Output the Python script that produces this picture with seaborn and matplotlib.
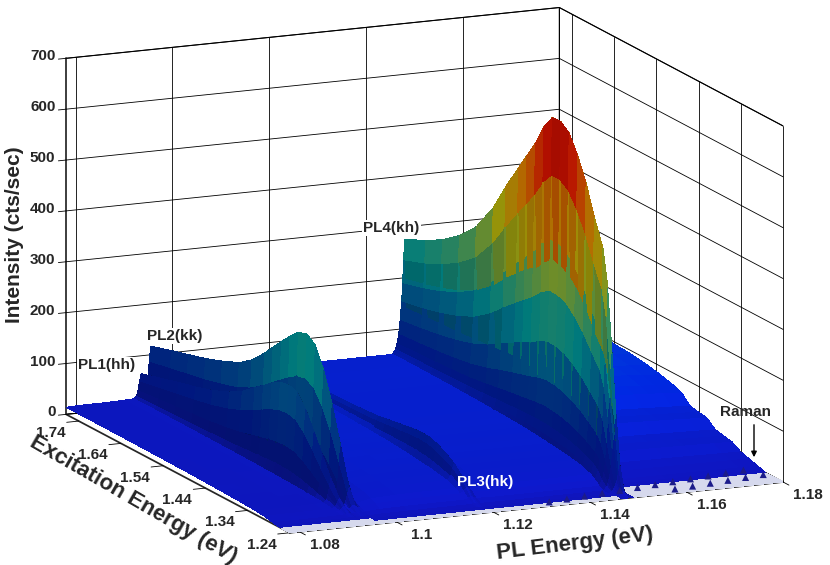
import numpy as np
import matplotlib
matplotlib.use("Agg")
import matplotlib.pyplot as plt
import seaborn as sns
from matplotlib.colors import LinearSegmentedColormap, Normalize

# PL energy sample positions (eV)
pl_energy = [1.078, 1.082, 1.086, 1.090, 1.0920,
             1.0926, 1.0929, 1.0932, 1.0935, 1.0938, 1.0942,
             1.0946, 1.0949, 1.0952, 1.0955, 1.0959, 1.0964, 1.0970,
             1.100, 1.105, 1.110, 1.115, 1.1175,
             1.1183, 1.1187, 1.1190, 1.1194, 1.1200,
             1.123, 1.128, 1.133, 1.138, 1.142, 1.1455,
             1.1458, 1.1462, 1.1465, 1.1468, 1.1471, 1.1474, 1.1476, 1.1478, 1.1480,
             1.1482, 1.1485, 1.1490, 1.152, 1.156, 1.160, 1.164, 1.167, 1.170, 1.173, 1.176, 1.180]
# excitation energy rows (eV)
exc_energy = [1.24, 1.25, 1.26, 1.27, 1.28, 1.29, 1.30, 1.32, 1.34, 1.36, 1.38, 1.40,
              1.42, 1.44, 1.46, 1.48, 1.50, 1.53, 1.56, 1.60, 1.64, 1.68, 1.72, 1.77]

# broad background level (cts/sec) at the top of the excitation range
background_level = [14, 15, 15, 16, 17,
                    18, 18, 18, 18, 18, 18,
                    20, 20, 20, 20, 22, 26, 30,
                    45, 50, 52, 52, 52,
                    52, 52, 52, 52, 52,
                    52, 52, 52, 52, 52, 52,
                    52, 52, 52, 52, 52, 52, 52, 52, 52,
                    30, 10, 0, 0, 0, 0, 0, 0, 0, 0, 0, 0]
background_exc = [0, 0, 0.02, 0.06, 0.15, 0.30, 0.42, 0.55, 0.62, 0.68, 0.72, 0.76,
                  0.80, 0.83, 0.86, 0.88, 0.90, 0.92, 0.94, 0.96, 0.98, 0.99, 1.0, 1.0]

# sideband plateau above PL4 (stepped along excitation energy)
plateau_pl = [1.1482, 1.1485, 1.1490, 1.152, 1.156, 1.160, 1.164, 1.167, 1.170, 1.173, 1.176, 1.180]
plateau_shape = [0.4, 0.85, 1.0, 1.0, 1.0, 0.98, 0.96, 0.94, 0.92, 0.90, 0.88, 0.85]
plateau_exc = [0, 0, 0, 0, 0, 3, 6, 12, 18, 30, 34, 38,
               55, 58, 62, 82, 90, 98, 104, 110, 112, 114, 115, 115]

# zero phonon lines
pl1_pl = [1.0920, 1.0926, 1.0929, 1.0932, 1.0935, 1.0938, 1.0942, 1.0946]
pl1_shape = [0, 0.12, 0.35, 0.70, 1.0, 0.75, 0.30, 0.05]
pl1_exc = [0, 0, 0, 1, 3, 9, 18, 46, 81, 118, 153, 177,
           182, 178, 167, 153, 140, 119, 104, 89, 78, 69, 59, 47]

pl2_pl = [1.0942, 1.0946, 1.0949, 1.0952, 1.0955, 1.0959, 1.0964, 1.0970]
pl2_shape = [0, 0.12, 0.35, 0.70, 1.0, 0.70, 0.25, 0]
pl2_exc = [0, 0, 0, 1, 3, 9, 37, 107, 179, 236, 276, 288,
           282, 265, 245, 225, 204, 177, 158, 143, 130, 120, 110, 97]

pl3_pl = [1.1175, 1.1183, 1.1187, 1.1190, 1.1194, 1.1200, 1.123]
pl3_shape = [0, 0.30, 0.75, 1.0, 0.70, 0.20, 0]
pl3_exc = [0, 0, 0, 2, 6, 12, 20, 32, 40, 46, 50, 48,
           45, 40, 36, 32, 28, 25, 22, 20, 18, 17, 16, 15]

pl4_pl = [1.1455, 1.1458, 1.1462, 1.1465, 1.1468, 1.1471, 1.1474, 1.1476, 1.1478, 1.1480,
          1.1482, 1.1485, 1.1490]
pl4_shape = [0, 0.02, 0.05, 0.10, 0.18, 0.30, 0.46, 0.62, 0.82, 1.0, 0.55, 0.15, 0.0]
pl4_exc = [0, 8, 55, 158, 278, 388, 443, 487, 543, 585, 618, 630,
           627, 598, 556, 522, 488, 437, 381, 325, 289, 263, 243, 224]

# Raman replicas near the low excitation edge
raman_pl = [1.132, 1.136, 1.140, 1.144, 1.148, 1.152, 1.156, 1.160, 1.164, 1.168, 1.172, 1.176,
            1.158, 1.162, 1.166, 1.170, 1.174, 1.178]
raman_exc = [1.244, 1.248, 1.252, 1.256, 1.260, 1.264, 1.268, 1.272, 1.276, 1.280, 1.284, 1.288,
             1.244, 1.248, 1.252, 1.256, 1.260, 1.264]

x_ticks = [1.08, 1.10, 1.12, 1.14, 1.16, 1.18]
x_ticklabels = ["1.08", "1.1", "1.12", "1.14", "1.16", "1.18"]
y_ticks = [1.24, 1.34, 1.44, 1.54, 1.64, 1.74]
y_ticklabels = ["1.24", "1.34", "1.44", "1.54", "1.64", "1.74"]
z_ticks = [0, 100, 200, 300, 400, 500, 600, 700]

X_LIM = (1.078, 1.18)
Y_LIM = (1.24, 1.77)
Z_LIM = (0, 700)
BOX = (530, 545, 360)


def build_map():
    """Assemble the intensity table from the read-off components."""
    pl = np.array(pl_energy)
    z = np.outer(background_exc, background_level).astype(float)
    parts = [
        (plateau_pl, plateau_shape, plateau_exc),
        (pl1_pl, pl1_shape, pl1_exc),
        (pl2_pl, pl2_shape, pl2_exc),
        (pl3_pl, pl3_shape, pl3_exc),
        (pl4_pl, pl4_shape, pl4_exc),
    ]
    for pos, shape, prof in parts:
        idx = np.searchsorted(pl, np.array(pos) - 1e-7)
        z[:, idx] += np.outer(prof, shape)
    return z


def face_colors(X, Y, Z, cmap, norm):
    """Per-face colour from mean height, lit in box-scaled coordinates."""
    P = np.stack([
        (X - X_LIM[0]) / (X_LIM[1] - X_LIM[0]) * BOX[0],
        (Y - Y_LIM[0]) / (Y_LIM[1] - Y_LIM[0]) * BOX[1],
        (Z - Z_LIM[0]) / (Z_LIM[1] - Z_LIM[0]) * BOX[2],
    ], axis=-1)
    d1 = P[1:, 1:] - P[:-1, :-1]
    d2 = P[:-1, 1:] - P[1:, :-1]
    n = np.cross(d1, d2)
    n *= np.sign(n[..., 2:3] + 1e-12)
    n /= np.linalg.norm(n, axis=-1, keepdims=True)
    light = np.array([-0.1, -0.5, 0.85])
    light /= np.linalg.norm(light)
    lam = np.clip(n @ light, 0, None)

    zc = 0.25 * (Z[1:, 1:] + Z[:-1, :-1] + Z[1:, :-1] + Z[:-1, 1:])
    inten = 0.33 + 0.55 * lam + 0.45 * norm(zc)
    rgb = cmap(norm(zc))[..., :3]
    rgb = rgb * inten[..., None]
    over = np.clip(inten - 1.0, 0, None)[..., None]
    rgb = np.clip(rgb + over * 1.2, 0, 1)
    flat = Z[1:, 1:] + Z[:-1, :-1] + Z[1:, :-1] + Z[:-1, 1:] < 1
    rgb[flat] = (0.84, 0.85, 0.93)

    out = np.ones(Z.shape + (4,))
    out[:-1, :-1, :3] = rgb
    return out


def draw_walls(ax):
    """Grid on the two back walls plus short tick marks, drawn under the surface."""
    line = dict(color="black", lw=0.6, zorder=0.5)
    x0, x1 = X_LIM
    y0, y1 = Y_LIM
    z0, z1 = Z_LIM
    for t in x_ticks:
        ax.plot([t, t], [y1, y1], [z0, z1], **line)
        ax.plot([t, t], [y0, y0 - 0.014], [z0, z0], **line)
    for t in y_ticks:
        ax.plot([x1, x1], [t, t], [z0, z1], **line)
        ax.plot([x0, x0 - 0.0025], [t, t], [z0, z0], **line)
    for t in z_ticks:
        ax.plot([x0, x1], [y1, y1], [t, t], **line)
        ax.plot([x1, x1], [y0, y1], [t, t], **line)
        ax.plot([x0, x0 - 0.0016], [y1, y1], [t, t], **line)


sns.set_theme(style="white")
plt.rcParams["font.family"] = ["Liberation Sans", "DejaVu Sans"]
plt.rcParams["font.weight"] = "bold"

cmap = LinearSegmentedColormap.from_list("pl", [
    (0.00, (0.07, 0.10, 0.90)),
    (0.12, (0.00, 0.18, 1.00)),
    (0.37, (0.00, 0.85, 0.85)),
    (0.50, (0.45, 0.85, 0.45)),
    (0.62, (0.88, 0.86, 0.05)),
    (0.75, (0.97, 0.55, 0.00)),
    (0.87, (0.92, 0.08, 0.00)),
    (1.00, (0.50, 0.00, 0.00)),
])
norm = Normalize(0, 680)

Z = build_map()
X, Y = np.meshgrid(pl_energy, exc_energy)
colors = face_colors(X, Y, Z, cmap, norm)

# oversized axes instead of zoom, so no polygons get culled at the view edge
fig = plt.figure(figsize=(8.3, 5.65), dpi=100)
ax = fig.add_axes([-0.237, -0.233, 1.47, 1.47], projection="3d", computed_zorder=False)
ax.set_proj_type("ortho")
ax.view_init(elev=13.5, azim=-113.8)
ax.set_box_aspect(BOX)

for axis in (ax.xaxis, ax.yaxis, ax.zaxis):
    axis.set_pane_color((1, 1, 1, 1))
    axis.pane.set_edgecolor("black")
    axis.pane.set_linewidth(0.8)

ax.set_xlim(*X_LIM)
ax.set_ylim(*Y_LIM)
ax.set_zlim(*Z_LIM)
ax.set_xticks([])
ax.set_yticks([])
ax.set_zticks([])
ax.grid(False)
draw_walls(ax)

ax.plot_surface(X, Y, Z, facecolors=colors, rstride=1, cstride=1, linewidth=0,
                antialiased=False, shade=False, zorder=1)
ax.scatter(raman_pl, raman_exc, [6] * len(raman_pl), marker="^", s=26,
           color="#1c1c8a", edgecolors="none", depthshade=False, zorder=3)

tick_font = dict(fontsize=11, fontweight="bold", ha="center", va="center", zorder=6)
for t, s in zip(x_ticks, x_ticklabels):
    ax.text(t, Y_LIM[0] - 0.060, 0, s, **tick_font)
for t, s in zip(y_ticks, y_ticklabels):
    ax.text(X_LIM[0] - 0.0058, t, -18, s, **tick_font)
for t in z_ticks:
    ax.text(X_LIM[0] - 0.0022, Y_LIM[1], t + 6, str(t), fontsize=11, fontweight="bold",
            ha="right", va="center", zorder=6)

fig.text(575 / 830, 1 - 544 / 565, "PL Energy (eV)", fontsize=16, fontweight="bold",
         rotation=7, ha="center", va="center")
fig.text(133 / 830, 1 - 500 / 565, "Excitation Energy (eV)", fontsize=16, fontweight="bold",
         rotation=-30, ha="center", va="center")
fig.text(15 / 830, 1 - 235 / 565, "Intensity (cts/sec)", fontsize=15, fontweight="bold",
         rotation=90, ha="center", va="center")

box = dict(facecolor="white", edgecolor="none", pad=1)
fig.text(107 / 830, 1 - 365 / 565, "PL1(hh)", fontsize=11, ha="center", va="center", bbox=box)
fig.text(175 / 830, 1 - 336 / 565, "PL2(kk)", fontsize=11, ha="center", va="center", bbox=box)
fig.text(391 / 830, 1 - 228 / 565, "PL4(kh)", fontsize=11, ha="center", va="center", bbox=box)
fig.text(485 / 830, 1 - 482 / 565, "PL3(hk)", fontsize=11, ha="center", va="center", color="white")
fig.text(745 / 830, 1 - 412 / 565, "Raman", fontsize=11, ha="center", va="center")
ax.annotate("", xy=(754 / 830, 1 - 460 / 565), xytext=(754 / 830, 1 - 422 / 565),
            xycoords="figure fraction", textcoords="figure fraction",
            arrowprops=dict(arrowstyle="-|>", color="black", lw=1, mutation_scale=8))

fig.savefig("out.png", dpi=100)
